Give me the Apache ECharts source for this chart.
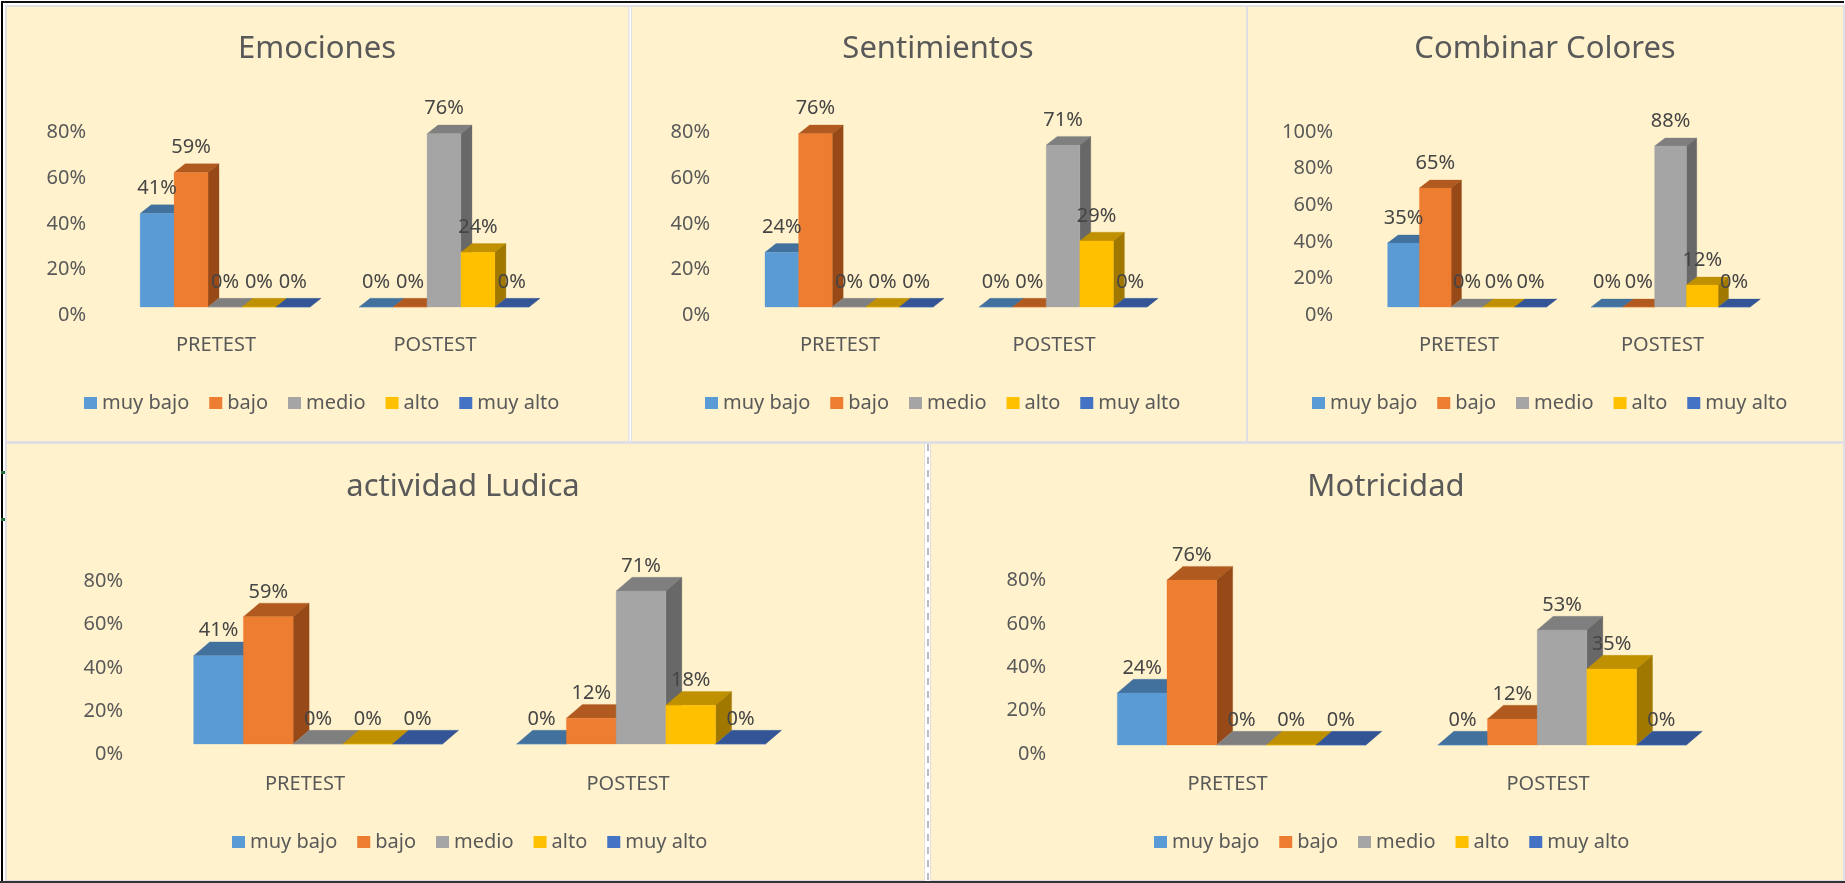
<!DOCTYPE html>
<html>
<head>
<meta charset="utf-8">
<style>html,body{margin:0;padding:0;background:#fff}#c{width:1845px;height:883px}</style>
<script src="https://cdn.jsdelivr.net/npm/echarts@6/dist/echarts.min.js"></script>
</head>
<body>
<div id="c"></div>
<script>
// ---- data ----
const categories = ['PRETEST', 'POSTEST'];
const levels = ['muy bajo', 'bajo', 'medio', 'alto', 'muy alto'];
const titles = ['Emociones', 'Sentimientos', 'Combinar Colores', 'actividad Ludica', 'Motricidad'];
const emocionesPre = [41, 59, 0, 0, 0];
const emocionesPost = [0, 0, 76, 24, 0];
const sentimientosPre = [24, 76, 0, 0, 0];
const sentimientosPost = [0, 0, 71, 29, 0];
const coloresPre = [35, 65, 0, 0, 0];
const coloresPost = [0, 0, 88, 12, 0];
const ludicaPre = [41, 59, 0, 0, 0];
const ludicaPost = [0, 12, 71, 18, 0];
const motricidadPre = [24, 76, 0, 0, 0];
const motricidadPost = [0, 12, 53, 35, 0];
const yMaxes = [80, 80, 100, 80, 80];
const yInterval = 20;
const panelData = [
  [emocionesPre, emocionesPost], [sentimientosPre, sentimientosPost], [coloresPre, coloresPost],
  [ludicaPre, ludicaPost], [motricidadPre, motricidadPost]
];

// ---- colours: [front, top, side] ----
const faces = [
  ['#5B9BD5', '#41719C', '#38638A'],
  ['#ED7D31', '#B05A20', '#974A18'],
  ['#A5A5A5', '#7F7F7F', '#686868'],
  ['#FFC000', '#BF9000', '#A07800'],
  ['#4472C4', '#335495', '#2B4780']
];
const TEXT = '#595959', LABEL = '#454545', FONT = '"Noto Sans", sans-serif';

// ---- layout ----
const layouts = [
  {box:[7,7,628,441],  cx:[216,435],   y0:315, scale:2.28, labelR:86,  ratio:.155, sx:9,  up:8,  dx:11,   dy:8.7, titleX:317,  titleY:56,  legX:84,   legY:403, catY:345},
  {box:[632,7,1246,441],cx:[840,1054], y0:315, scale:2.28, labelR:710, ratio:.157, sx:9,  up:8,  dx:11,   dy:8.7, titleX:938,  titleY:56,  legX:705,  legY:403, catY:345},
  {box:[1248,7,1843,441],cx:[1459,1662.5],y0:315,scale:1.83,labelR:1333,ratio:.156,sx:8,up:8,  dx:10.4, dy:8,   titleX:1545, titleY:56,  legX:1312, legY:403, catY:345},
  {box:[7,444,924,880],cx:[305,628],   y0:754, scale:2.155,labelR:123, ratio:.154, sx:13, up:10, dx:16,   dy:13.7,titleX:463,  titleY:494, legX:232,  legY:842, catY:784},
  {box:[931,444,1843,880],cx:[1227.5,1548],y0:754,scale:2.17,labelR:1046,ratio:.155,sx:14,up:9,dx:16,   dy:13.7,titleX:1386, titleY:494, legX:1154, legY:842, catY:784}
];

function poly(points, fill) {
  return {type:'polygon', shape:{points}, style:{fill, stroke:fill, lineWidth:0.3}};
}
function barRenderer(lay, s) {
  return function (params, api) {
    const v = api.value(1);
    const top = api.coord([api.value(0), v]);
    const zero = api.coord([api.value(0), 0]);
    const w = api.size([1, 0])[0] * lay.ratio;
    const x0 = top[0] + lay.sx + (s - 2.5) * w, x1 = x0 + w;
    const yT = top[1] - lay.up, yB = zero[1] - lay.up;
    const children = [
      poly([[x0,yT],[x1,yT],[x1+lay.dx,yT-lay.dy],[x0+lay.dx,yT-lay.dy]], faces[s][1]),
      poly([[x1,yT],[x1+lay.dx,yT-lay.dy],[x1+lay.dx,yB-lay.dy],[x1,yB]], faces[s][2]),
      poly([[x0,yT],[x1,yT],[x1,yB],[x0,yB]], faces[s][0]),
      {type:'text', z2:100, style:{x:(x0+x1)/2, y:yT-25, text:v+'%', align:'center', verticalAlign:'middle',
        fill:LABEL, font:'20px '+FONT}}
    ];
    return {type:'group', children};
  };
}

const option = {
  animation:false, backgroundColor:'#fff',
  title:[], grid:[], xAxis:[], yAxis:[], legend:[], series:[],
  graphic:{elements:[
    {type:'rect',silent:true,z:-10,shape:{x:1,y:1,width:2,height:881},style:{fill:'#000'}},
    {type:'rect',silent:true,z:-10,shape:{x:1,y:1,width:1843,height:2},style:{fill:'#111'}},
    {type:'rect',silent:true,z:-10,shape:{x:0,y:881,width:1845,height:2},style:{fill:'#333'}},
    {type:'rect',silent:true,z:-10,shape:{x:5,y:5,width:1840,height:876},style:{fill:'#E0E0E4'}},
    {type:'rect',silent:true,z:-9,shape:{x:629.5,y:7,width:1.5,height:434},style:{fill:'#fff'}},
    {type:'rect',silent:true,z:-9,shape:{x:925,y:444,width:5,height:437},style:{fill:'#fff'}},
    {type:'line',silent:true,z:-8,shape:{x1:928,y1:444,x2:928,y2:881},style:{stroke:'#A6A6A6',lineWidth:1.5,lineDash:[7,6]}},
    {type:'rect',silent:true,z:-8,shape:{x:1,y:471,width:4,height:3},style:{fill:'#1F6B3A'}},
    {type:'rect',silent:true,z:-8,shape:{x:1,y:518,width:4,height:3},style:{fill:'#1F6B3A'}}
  ].concat(layouts.map(l => ({type:'rect',silent:true,z:-9,
    shape:{x:l.box[0],y:l.box[1],width:l.box[2]-l.box[0],height:l.box[3]-l.box[1]},
    style:{fill:'#FFF2CC'}})))}
};

layouts.forEach((lay, i) => {
  const band = lay.cx[1] - lay.cx[0];
  const left = lay.cx[0] - band / 2;
  const h = yMaxes[i] * lay.scale;
  option.title.push({text:titles[i], left:lay.titleX, top:lay.titleY-22, textAlign:'center', padding:0,
    textStyle:{fontFamily:FONT, fontSize:31, fontWeight:'normal', color:TEXT}});
  option.grid.push({left, top:lay.y0-h, width:band*2, height:h});
  option.xAxis.push({type:'category', gridIndex:i, data:categories,
    axisLine:{show:false}, axisTick:{show:false}, splitLine:{show:false},
    axisLabel:{color:TEXT, fontFamily:FONT, fontSize:20, margin:lay.catY-lay.y0-10}});
  option.yAxis.push({type:'value', gridIndex:i, min:0, max:yMaxes[i], interval:yInterval,
    axisLine:{show:false}, axisTick:{show:false}, splitLine:{show:false},
    axisLabel:{color:TEXT, fontFamily:FONT, fontSize:20, margin:left-lay.labelR, formatter:'{value}%'}});
  option.legend.push({data:levels, left:lay.legX, top:lay.legY-10, orient:'horizontal', icon:'rect', padding:0,
    itemWidth:13, itemHeight:12, itemGap:20, selectedMode:false,
    textStyle:{color:TEXT, fontFamily:FONT, fontSize:20}});
  levels.forEach((name, s) => {
    option.series.push({type:'custom', name, xAxisIndex:i, yAxisIndex:i,
      coordinateSystem:'cartesian2d',
      itemStyle:{color:faces[s][0]},
      encode:{x:0, y:1},
      renderItem:barRenderer(lay, s),
      data:categories.map((c, k) => [k, panelData[i][k][s]])});
  });
});

const chart = echarts.init(document.getElementById('c'), null, {renderer:'canvas'});
chart.setOption(option);
</script>
</body>
</html>
